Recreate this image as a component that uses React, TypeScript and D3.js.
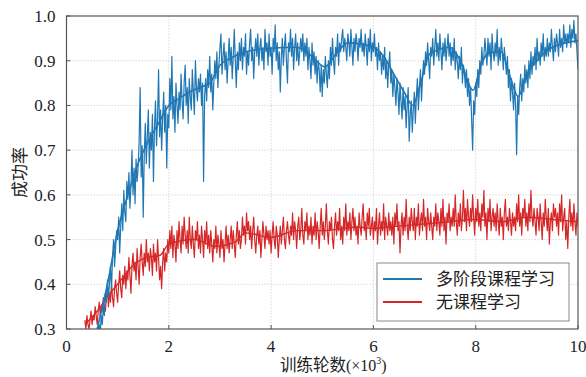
import React from "react";
import * as d3 from "d3";

const W = 586;
const H = 377;
const M = { left: 66.5, right: 8, top: 16, bottom: 48 };

const xTicks = [0, 2, 4, 6, 8, 10];
const yTicks = [0.3, 0.4, 0.5, 0.6, 0.7, 0.8, 0.9, 1.0];

const seriesNames = ["多阶段课程学习", "无课程学习"];
const seriesColors = ["#1f77b4", "#d62728"];

// raw values, x step 0.02 (×10³)
const rawStep = 0.02;
const blueStart = 0.6;
const blueRaw = [
  0.28, 0.30, 0.31, 0.29, 0.33, 0.31, 0.35, 0.33, 0.38, 0.36, 0.41, 0.37, 0.40, 0.44, 0.39, 0.46, 0.50, 0.44, 0.48, 0.52,
  0.50, 0.55, 0.47, 0.53, 0.58, 0.52, 0.61, 0.56, 0.54, 0.63, 0.59, 0.65, 0.57, 0.62, 0.70, 0.60, 0.66, 0.58, 0.68, 0.63,
  0.66, 0.72, 0.84, 0.64, 0.71, 0.55, 0.69, 0.76, 0.67, 0.73, 0.79, 0.66, 0.74, 0.70, 0.78, 0.63, 0.75, 0.81, 0.71, 0.77,
  0.88, 0.73, 0.79, 0.70, 0.77, 0.83, 0.74, 0.80, 0.66, 0.78, 0.75, 0.86, 0.79, 0.91, 0.77, 0.82, 0.74, 0.85, 0.80, 0.76,
  0.83, 0.79, 0.87, 0.81, 0.77, 0.85, 0.89, 0.80, 0.84, 0.76, 0.86, 0.82, 0.79, 0.88, 0.83, 0.78, 0.90, 0.84, 0.81, 0.86,
  0.83, 0.87, 0.80, 0.85, 0.63, 0.82, 0.86, 0.81, 0.88, 0.84, 0.91, 0.83, 0.87, 0.79, 0.85, 0.90, 0.86, 0.92, 0.84, 0.89,
  0.93, 0.96, 0.87, 0.91, 0.94, 0.88, 0.92, 0.85, 0.90, 0.95, 0.89, 0.93, 0.86, 0.91, 0.97, 0.90, 0.84, 0.92, 0.88, 0.94,
  0.90, 0.95, 0.88, 0.93, 0.91, 0.96, 0.87, 0.92, 0.89, 0.94, 0.97, 0.90, 0.93, 0.86, 0.92, 0.95, 0.91, 0.96, 0.89, 0.93,
  0.95, 0.90, 0.93, 0.88, 0.97, 0.92, 0.94, 0.89, 0.96, 0.91, 0.93, 0.87, 0.95, 0.92, 0.98, 0.90, 0.94, 0.88, 0.92, 0.83,
  0.91, 0.95, 0.89, 0.93, 0.96, 0.90, 0.85, 0.94, 0.92, 0.97, 0.91, 0.95, 0.88, 0.93, 0.96, 0.90, 0.94, 0.89, 0.92, 0.95,
  0.92, 0.96, 0.90, 0.94, 0.91, 0.95, 0.88, 0.93, 0.90, 0.86, 0.94, 0.89, 0.92, 0.87, 0.91, 0.85, 0.90, 0.88, 0.83, 0.89,
  0.82, 0.88, 0.85, 0.91, 0.87, 0.84, 0.90, 0.86, 0.93, 0.89, 0.95, 0.90, 0.87, 0.93, 0.91, 0.96, 0.89, 0.94, 0.92, 0.95,
  0.97, 0.92, 0.95, 0.93, 0.90, 0.96, 0.94, 0.91, 0.97, 0.93, 0.89, 0.95, 0.92, 0.96, 0.94, 0.90, 0.95, 0.93, 0.97, 0.92,
  0.94, 0.91, 0.96, 0.93, 0.89, 0.95, 0.92, 0.97, 0.90, 0.94, 0.92, 0.96, 0.91, 0.93, 0.88, 0.94, 0.90, 0.92, 0.87, 0.91,
  0.88, 0.93, 0.86, 0.90, 0.84, 0.89, 0.92, 0.85, 0.88, 0.82, 0.87, 0.84, 0.80, 0.86, 0.83, 0.78, 0.85, 0.81, 0.77, 0.84,
  0.79, 0.82, 0.75, 0.80, 0.84, 0.72, 0.78, 0.81, 0.74, 0.79, 0.83, 0.76, 0.82, 0.86, 0.79, 0.84, 0.88, 0.81, 0.86, 0.90,
  0.87, 0.92, 0.89, 0.94, 0.90, 0.86, 0.93, 0.91, 0.95, 0.89, 0.93, 0.97, 0.91, 0.94, 0.90, 0.96, 0.92, 0.88, 0.94, 0.91,
  0.95, 0.90, 0.93, 0.96, 0.91, 0.94, 0.89, 0.93, 0.90, 0.95, 0.88, 0.92, 0.90, 0.86, 0.91, 0.88, 0.93, 0.85, 0.89, 0.87,
  0.84, 0.88, 0.82, 0.86, 0.80, 0.84, 0.77, 0.70, 0.81, 0.78, 0.85, 0.82, 0.88, 0.84, 0.90, 0.87, 0.93, 0.89, 0.91, 0.95,
  0.92, 0.89, 0.95, 0.91, 0.94, 0.88, 0.96, 0.92, 0.90, 0.94, 0.91, 0.97, 0.89, 0.93, 0.90, 0.95, 0.92, 0.88, 0.93, 0.90,
  0.87, 0.91, 0.84, 0.88, 0.81, 0.86, 0.83, 0.79, 0.85, 0.80, 0.69, 0.82, 0.78, 0.84, 0.87, 0.81, 0.86, 0.83, 0.89, 0.85,
  0.88, 0.84, 0.90, 0.86, 0.92, 0.87, 0.91, 0.89, 0.93, 0.88, 0.95, 0.90, 0.92, 0.89, 0.94, 0.91, 0.96, 0.90, 0.93, 0.91,
  0.95, 0.91, 0.94, 0.92, 0.97, 0.93, 0.90, 0.95, 0.92, 0.96, 0.94, 0.91, 0.97, 0.93, 0.95, 0.92, 0.98, 0.94, 0.96, 0.93,
  0.96, 0.94, 0.98, 0.93, 0.97, 0.95, 0.99, 0.94, 0.96, 0.92, 0.88,
];

const redStart = 0.36;
const redRaw = [
  0.32, 0.30, 0.33, 0.31, 0.30, 0.32, 0.34, 0.31, 0.33, 0.32, 0.35, 0.33, 0.31, 0.34, 0.36, 0.33, 0.35, 0.34, 0.37, 0.35,
  0.34, 0.37, 0.39, 0.35, 0.38, 0.36, 0.40, 0.37, 0.35, 0.39, 0.41, 0.38, 0.36, 0.40, 0.43, 0.39, 0.37, 0.42, 0.40, 0.44,
  0.39, 0.43, 0.41, 0.46, 0.42, 0.38, 0.44, 0.47, 0.43, 0.45, 0.41, 0.48, 0.44, 0.40, 0.46, 0.49, 0.45, 0.42, 0.47, 0.44,
  0.50, 0.45, 0.47, 0.43, 0.48, 0.46, 0.42, 0.49, 0.45, 0.47, 0.43, 0.50, 0.46, 0.41, 0.44, 0.39, 0.45, 0.48, 0.43, 0.47,
  0.45, 0.50, 0.47, 0.52, 0.48, 0.53, 0.46, 0.51, 0.49, 0.45, 0.52, 0.48, 0.54, 0.50, 0.47, 0.53, 0.49, 0.55, 0.51, 0.48,
  0.52, 0.47, 0.55, 0.50, 0.48, 0.53, 0.49, 0.46, 0.52, 0.50, 0.54, 0.48, 0.51, 0.47, 0.53, 0.50, 0.46, 0.52, 0.49, 0.54,
  0.48, 0.51, 0.47, 0.52, 0.49, 0.45, 0.50, 0.48, 0.53, 0.47, 0.51, 0.49, 0.46, 0.52, 0.48, 0.50, 0.45, 0.49, 0.53, 0.48,
  0.51, 0.47, 0.50, 0.53, 0.48, 0.52, 0.49, 0.46, 0.51, 0.54, 0.49, 0.52, 0.48, 0.50, 0.55, 0.51, 0.53, 0.49, 0.56, 0.52,
  0.54, 0.50, 0.53, 0.48, 0.52, 0.55, 0.50, 0.47, 0.51, 0.53, 0.49, 0.52, 0.46, 0.50, 0.54, 0.51, 0.48, 0.53, 0.50, 0.52,
  0.49, 0.52, 0.47, 0.51, 0.54, 0.50, 0.48, 0.53, 0.51, 0.46, 0.50, 0.53, 0.49, 0.52, 0.55, 0.50, 0.48, 0.52, 0.54, 0.51,
  0.49, 0.53, 0.51, 0.56, 0.50, 0.54, 0.52, 0.48, 0.53, 0.55, 0.50, 0.52, 0.57, 0.51, 0.49, 0.54, 0.52, 0.56, 0.50, 0.53,
  0.51, 0.55, 0.49, 0.53, 0.51, 0.56, 0.50, 0.54, 0.52, 0.48, 0.53, 0.57, 0.51, 0.54, 0.50, 0.53, 0.58, 0.52, 0.49, 0.54,
  0.52, 0.55, 0.50, 0.48, 0.53, 0.56, 0.51, 0.54, 0.52, 0.57, 0.50, 0.53, 0.49, 0.55, 0.52, 0.58, 0.51, 0.54, 0.52, 0.56,
  0.50, 0.54, 0.57, 0.52, 0.55, 0.51, 0.53, 0.49, 0.56, 0.53, 0.51, 0.55, 0.58, 0.52, 0.54, 0.50, 0.56, 0.53, 0.57, 0.51,
  0.53, 0.55, 0.50, 0.54, 0.52, 0.57, 0.49, 0.53, 0.56, 0.51, 0.54, 0.52, 0.58, 0.50, 0.55, 0.53, 0.51, 0.56, 0.52, 0.54,
  0.51, 0.55, 0.49, 0.56, 0.53, 0.58, 0.52, 0.54, 0.47, 0.53, 0.56, 0.51, 0.55, 0.52, 0.59, 0.53, 0.50, 0.55, 0.52, 0.57,
  0.54, 0.52, 0.57, 0.50, 0.55, 0.53, 0.58, 0.51, 0.54, 0.56, 0.52, 0.59, 0.53, 0.55, 0.50, 0.57, 0.54, 0.52, 0.56, 0.53,
  0.50, 0.55, 0.53, 0.58, 0.52, 0.56, 0.54, 0.51, 0.57, 0.53, 0.59, 0.52, 0.55, 0.49, 0.56, 0.54, 0.58, 0.52, 0.55, 0.53,
  0.57, 0.53, 0.60, 0.54, 0.51, 0.56, 0.53, 0.58, 0.52, 0.55, 0.61, 0.54, 0.57, 0.52, 0.59, 0.55, 0.53, 0.57, 0.54, 0.60,
  0.55, 0.51, 0.57, 0.54, 0.59, 0.53, 0.56, 0.52, 0.58, 0.55, 0.61, 0.53, 0.56, 0.50, 0.57, 0.54, 0.59, 0.52, 0.55, 0.57,
  0.53, 0.56, 0.52, 0.58, 0.54, 0.51, 0.57, 0.53, 0.55, 0.50, 0.56, 0.59, 0.53, 0.55, 0.52, 0.57, 0.54, 0.51, 0.56, 0.53,
  0.55, 0.52, 0.58, 0.54, 0.60, 0.53, 0.56, 0.51, 0.57, 0.55, 0.59, 0.53, 0.56, 0.52, 0.58, 0.54, 0.61, 0.55, 0.53, 0.57,
  0.54, 0.51, 0.57, 0.55, 0.52, 0.58, 0.54, 0.50, 0.56, 0.53, 0.59, 0.55, 0.52, 0.57, 0.49, 0.54, 0.56, 0.52, 0.58, 0.55,
  0.57, 0.53, 0.56, 0.51, 0.58, 0.54, 0.60, 0.52, 0.55, 0.57, 0.50, 0.54, 0.48, 0.55, 0.59, 0.53, 0.56, 0.52, 0.58, 0.54,
  0.51, 0.56, 0.53,
];

// smoothed curves
const blueTrendX = [0.6, 0.8, 1.0, 1.2, 1.4, 1.6, 1.8, 2.0, 2.2, 2.4, 2.6, 2.8, 3.0, 3.2, 3.5, 4.0, 4.5, 4.8, 5.05, 5.3, 5.5, 6.0, 6.2, 6.4, 6.6, 6.77, 6.9, 7.1, 7.5, 7.7, 7.95, 8.1, 8.25, 8.5, 8.67, 8.83, 9.0, 9.2, 9.5, 10.0];
const blueTrendY = [0.30, 0.40, 0.52, 0.60, 0.67, 0.72, 0.76, 0.80, 0.815, 0.83, 0.84, 0.85, 0.89, 0.905, 0.92, 0.928, 0.93, 0.91, 0.886, 0.92, 0.94, 0.93, 0.91, 0.87, 0.83, 0.80, 0.84, 0.915, 0.93, 0.90, 0.834, 0.89, 0.917, 0.92, 0.865, 0.82, 0.87, 0.90, 0.93, 0.945];
const redTrendX = [0.36, 0.6, 0.85, 1.0, 1.28, 1.57, 1.83, 2.0, 2.5, 2.9, 3.3, 3.5, 4.0, 4.5, 5.0, 5.7, 6.0, 6.5, 7.0, 7.5, 8.0, 8.5, 9.0, 9.5, 10.0];
const redTrendY = [0.31, 0.34, 0.38, 0.40, 0.44, 0.46, 0.465, 0.49, 0.50, 0.485, 0.495, 0.515, 0.505, 0.52, 0.52, 0.528, 0.525, 0.53, 0.535, 0.54, 0.545, 0.54, 0.55, 0.545, 0.54];

const serif = "Liberation Serif, Times New Roman, DejaVu Serif, serif";
const cjk = "Noto Sans CJK SC, Noto Sans CJK JP, sans-serif";

export default function App() {
  const iw = W - M.left - M.right;
  const ih = H - M.top - M.bottom;
  const x = d3.scaleLinear().domain([0, 10]).range([M.left, M.left + iw]);
  const y = d3.scaleLinear().domain([0.3, 1.0]).range([M.top + ih, M.top]);

  const rawLine = d3
    .line<[number, number]>()
    .x((d) => x(d[0]))
    .y((d) => y(d[1]));
  const smoothLine = d3
    .line<[number, number]>()
    .x((d) => x(d[0]))
    .y((d) => y(d[1]))
    .curve(d3.curveMonotoneX);

  const bluePts: [number, number][] = blueRaw.map((v, i) => [blueStart + i * rawStep, v]);
  const redPts: [number, number][] = redRaw.map((v, i) => [redStart + i * rawStep, v]);
  const blueT: [number, number][] = blueTrendX.map((v, i) => [v, blueTrendY[i]]);
  const redT: [number, number][] = redTrendX.map((v, i) => [v, redTrendY[i]]);

  const lx = 377, ly = 263, lw = 192, lh = 58;

  return (
    <svg width={W} height={H} style={{ position: "absolute", left: 0, top: 0, background: "#fff" }}>
      <defs>
        <clipPath id="plot">
          <rect x={M.left} y={M.top} width={iw} height={ih} />
        </clipPath>
      </defs>
      {xTicks.slice(1, -1).map((t) => (
        <line key={"gx" + t} x1={x(t)} x2={x(t)} y1={M.top} y2={M.top + ih} stroke="#d0d0d0" strokeWidth={0.8} strokeDasharray="1.5,1.5" />
      ))}
      {yTicks.slice(1, -1).map((t) => (
        <line key={"gy" + t} x1={M.left} x2={M.left + iw} y1={y(t)} y2={y(t)} stroke="#d0d0d0" strokeWidth={0.8} strokeDasharray="1.5,1.5" />
      ))}
      <g clipPath="url(#plot)">
        <path d={rawLine(redPts) || ""} fill="none" stroke={seriesColors[1]} strokeWidth={1.2} strokeLinejoin="round" />
        <path d={smoothLine(redT) || ""} fill="none" stroke={seriesColors[1]} strokeWidth={1.4} />
        <path d={rawLine(bluePts) || ""} fill="none" stroke={seriesColors[0]} strokeWidth={1.2} strokeLinejoin="round" />
        <path d={smoothLine(blueT) || ""} fill="none" stroke={seriesColors[0]} strokeWidth={1.6} />
      </g>
      <rect x={M.left} y={M.top} width={iw} height={ih} fill="none" stroke="#555" strokeWidth={1.2} />
      {xTicks.map((t) => (
        <g key={"xt" + t}>
          <line x1={x(t)} x2={x(t)} y1={M.top + ih} y2={M.top + ih - 4} stroke="#555" strokeWidth={1} />
          <text x={x(t)} y={M.top + ih + 23} textAnchor="middle" fontFamily={serif} fontSize={17} fill="#222">
            {t}
          </text>
        </g>
      ))}
      {yTicks.map((t) => (
        <g key={"yt" + t}>
          <line x1={M.left} x2={M.left + 4} y1={y(t)} y2={y(t)} stroke="#555" strokeWidth={1} />
          <text x={M.left - 11} y={y(t) + 6} textAnchor="end" fontFamily={serif} fontSize={17} fill="#222">
            {t.toFixed(1)}
          </text>
        </g>
      ))}
      <text x={280} y={371} textAnchor="start" fill="#222" fontSize={16}>
        <tspan fontFamily={cjk} fontSize={16.5}>训练轮数</tspan>
        <tspan fontFamily={serif} fontSize={16}>(×10</tspan>
        <tspan fontFamily={serif} fontSize={10} dy={-7}>3</tspan>
        <tspan fontFamily={serif} fontSize={16} dy={7}>)</tspan>
      </text>
      <text transform={`translate(26, ${M.top + ih / 2}) rotate(-90)`} textAnchor="middle" fill="#222" fontFamily={cjk} fontSize={17}>
        成功率
      </text>
      <rect x={lx} y={ly} width={lw} height={lh} fill="#fff" fillOpacity={0.9} stroke="#888" strokeWidth={1} />
      {seriesNames.map((n, i) => (
        <g key={n}>
          <line x1={lx + 6} x2={lx + 45} y1={ly + 16 + i * 23} y2={ly + 16 + i * 23} stroke={seriesColors[i]} strokeWidth={2} />
          <text x={lx + 59} y={ly + 22 + i * 23} fill="#222" fontFamily={cjk} fontSize={17}>
            {n}
          </text>
        </g>
      ))}
    </svg>
  );
}
